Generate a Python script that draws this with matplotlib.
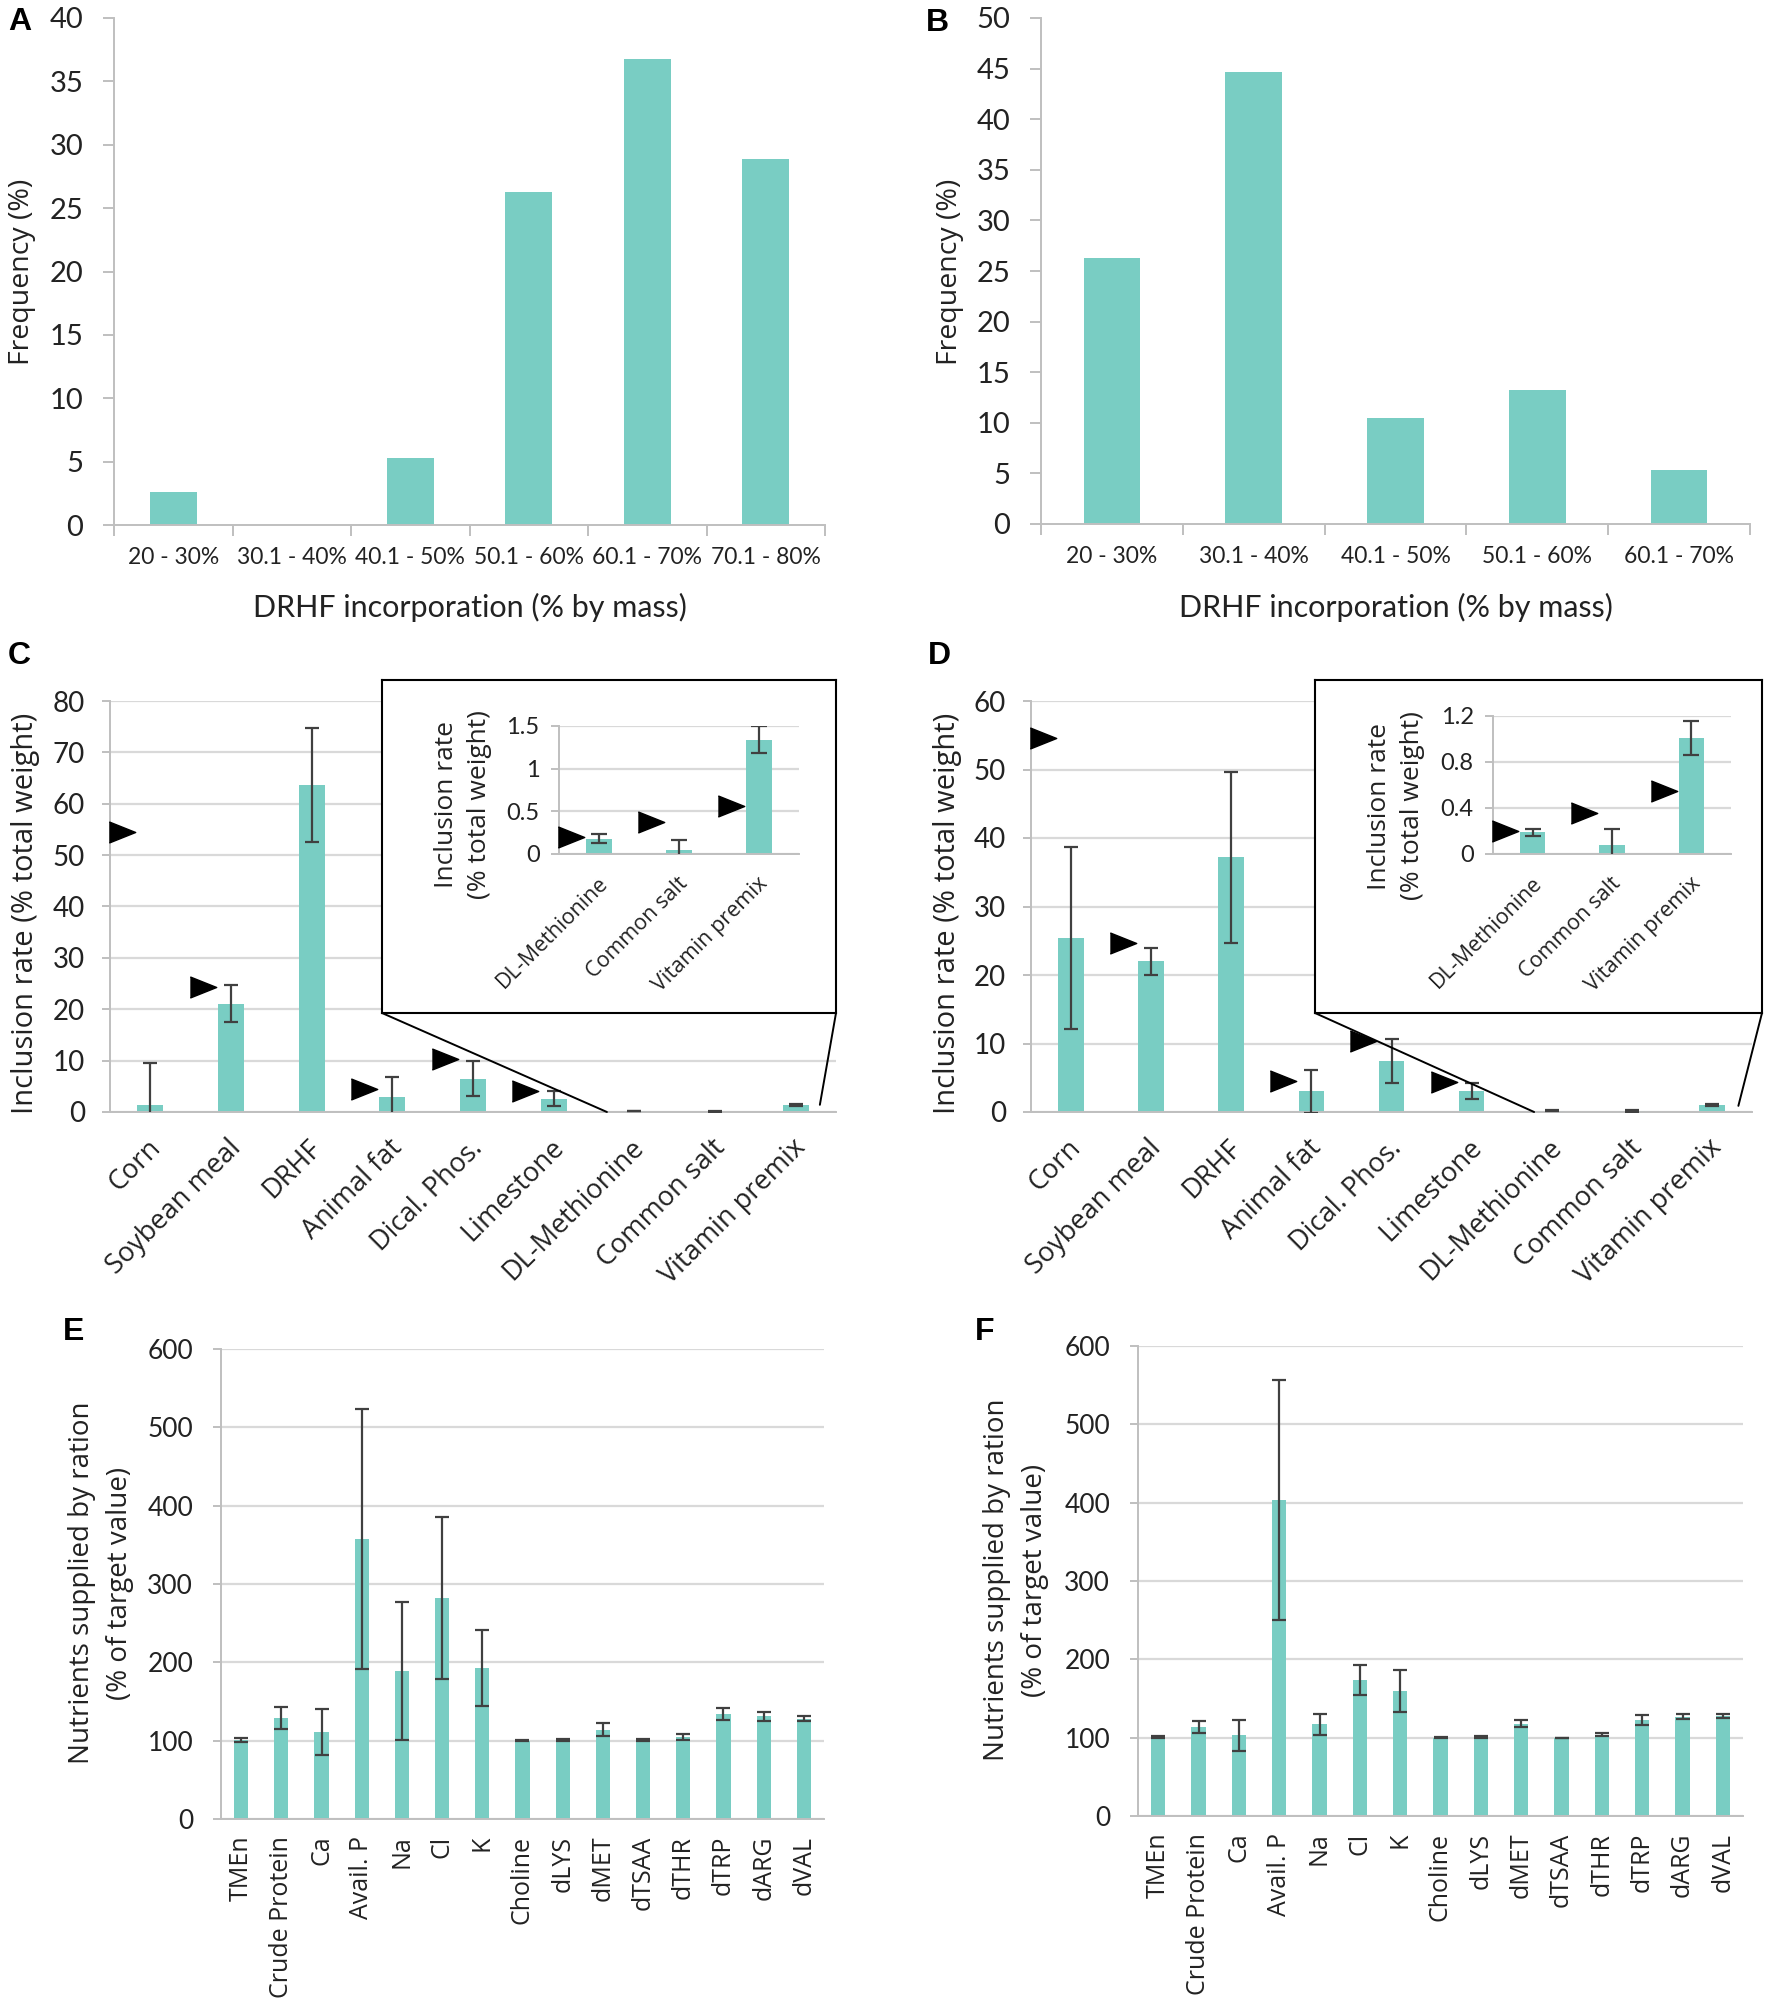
import matplotlib
matplotlib.use('Agg')
import matplotlib.pyplot as plt
import numpy as np
from matplotlib.patches import ConnectionPatch
from matplotlib.transforms import ScaledTranslation

# ---------------- data ----------------
bins_a = ['20 - 30%', '30.1 - 40%', '40.1 - 50%', '50.1 - 60%', '60.1 - 70%', '70.1 - 80%']
freq_a = [2.6, 0.0, 5.3, 26.3, 36.8, 28.9]
bins_b = ['20 - 30%', '30.1 - 40%', '40.1 - 50%', '50.1 - 60%', '60.1 - 70%']
freq_b = [26.3, 44.7, 10.5, 13.2, 5.3]

ingredients = ['Corn', 'Soybean meal', 'DRHF', 'Animal fat', 'Dical. Phos.',
               'Limestone', 'DL-Methionine', 'Common salt', 'Vitamin premix']
c_mean = [1.3, 21.1, 63.7, 2.9, 6.5, 2.6, 0.18, 0.05, 1.34]
c_sd = [8.3, 3.6, 11.1, 3.9, 3.4, 1.4, 0.05, 0.11, 0.16]
c_target = [54.5, 24.4, np.nan, 4.4, 10.3, 4.0, 0.20, 0.38, 0.56]
d_mean = [25.4, 22.0, 37.2, 3.0, 7.5, 3.1, 0.19, 0.08, 1.01]
d_sd = [13.3, 2.0, 12.5, 3.1, 3.2, 1.2, 0.03, 0.14, 0.145]
d_target = [54.6, 24.6, np.nan, 4.5, 10.3, 4.4, 0.20, 0.36, 0.55]

nutrients = ['TMEn', 'Crude Protein', 'Ca', 'Avail. P', 'Na', 'Cl', 'K', 'Choline',
             'dLYS', 'dMET', 'dTSAA', 'dTHR', 'dTRP', 'dARG', 'dVAL']
e_mean = [101, 129, 111, 357, 189, 282, 193, 100, 101, 114, 100.5, 105, 134, 131, 128]
e_sd = [3, 14, 29.5, 166, 88, 103, 48.5, 0.5, 1.5, 8, 1, 4, 8, 6, 3.5]
f_mean = [101, 114, 103, 403, 117, 174, 160, 100, 100.5, 118, 99.5, 104, 123, 127, 128]
f_sd = [1.5, 7.5, 19.5, 153, 13, 19, 27, 0.5, 1.5, 5, 0.5, 2.5, 6.5, 3.5, 2.5]

# ---------------- style ----------------
W, H = 1772, 2014
BAR = '#79CDC3'
GRID = '#D9D9D9'
SPINE = '#BFBFBF'
ERR = '#404040'
TXT = '#222222'
TICKF = ['Lato', 'DejaVu Sans']
LABF = ['Open Sans', 'DejaVu Sans']
plt.rcParams['font.family'] = TICKF
plt.rcParams['text.color'] = TXT
plt.rcParams['xtick.color'] = SPINE
plt.rcParams['ytick.color'] = SPINE
plt.rcParams['xtick.labelcolor'] = TXT
plt.rcParams['ytick.labelcolor'] = TXT

TRI = [(-1, -0.8), (1, 0), (-1, 0.8)]

fig = plt.figure(figsize=(W / 100, H / 100), dpi=100)


def rect(l, t, r, b):
    return [l / W, 1 - b / H, (r - l) / W, (b - t) / H]


def fpos(x, y):
    return x / W, 1 - y / H


def style_spines(ax):
    for s in ['top', 'right']:
        ax.spines[s].set_visible(False)
    for s in ['left', 'bottom']:
        ax.spines[s].set_color(SPINE)
        ax.spines[s].set_linewidth(1.4)


def shift_labels(ax, dx_px):
    off = ScaledTranslation(dx_px / 100, 0, fig.dpi_scale_trans)
    for lab in ax.get_xticklabels():
        lab.set_transform(lab.get_transform() + off)


def hist_panel(r, cats, vals, ymax, ystep):
    ax = fig.add_axes(rect(*r))
    x = np.arange(len(cats))
    ax.bar(x, vals, width=0.4, color=BAR, zorder=2)
    ax.set_xlim(-0.5, len(cats) - 0.5)
    ax.set_ylim(0, ymax)
    ax.set_yticks(np.arange(0, ymax + 1, ystep))
    ax.set_xticks(x)
    ax.set_xticklabels(cats, fontsize=16.5)
    ax.set_xticks(np.arange(-0.5, len(cats)), minor=True)
    ax.tick_params(axis='x', which='major', length=0, pad=16)
    ax.tick_params(axis='x', which='minor', length=8, width=1.4)
    ax.tick_params(axis='y', length=8, width=1.4, pad=14, labelsize=21)
    style_spines(ax)
    return ax


def bar_err(ax, means, sds, width, cap):
    x = np.arange(len(means))
    ax.bar(x, means, width=width, color=BAR, zorder=2)
    ax.errorbar(x, means, yerr=sds, fmt='none', ecolor=ERR, elinewidth=1.6,
                capsize=cap, capthick=1.6, zorder=3)
    return x


def grid_axes(ax, n, ymax, ystep, ylabsize, pad):
    ax.set_xlim(-0.5, n - 0.5)
    ax.set_ylim(0, ymax)
    ax.set_yticks(np.arange(0, ymax + ystep / 2, ystep))
    ax.yaxis.grid(True, color=GRID, linewidth=1.6, zorder=0)
    ax.set_axisbelow(True)
    ax.tick_params(axis='y', length=6, width=1.4, pad=pad, labelsize=ylabsize)
    style_spines(ax)


def ingredient_panel(main_r, box_r, ins_r, means, sds, targets, ymax, ystep,
                     ins_ymax, ins_ticks, ins_ticklabels, conn_l, conn_r):
    ax = fig.add_axes(rect(*main_r))
    x = bar_err(ax, means, sds, 0.32, 5)
    ax.plot(x[:6] - 0.35, targets[:6], ls='none', marker=TRI, ms=19, color='black',
            zorder=5, clip_on=False)
    grid_axes(ax, len(ingredients), ymax, ystep, 20, 12)
    ax.set_xticks(x)
    ax.set_xticklabels(ingredients, fontsize=19.5, family=LABF, rotation=45,
                       ha='right', va='center', rotation_mode='anchor')
    ax.tick_params(axis='x', length=0, pad=23)
    shift_labels(ax, 6)

    box = fig.add_axes(rect(*box_r), zorder=3)
    box.set_xticks([])
    box.set_yticks([])
    for s in box.spines.values():
        s.set_color('black')
        s.set_linewidth(1.5)

    ins = fig.add_axes(rect(*ins_r), zorder=4)
    ins.patch.set_alpha(0)
    xi = bar_err(ins, means[6:], sds[6:], 0.32, 5.5)
    ins.plot(xi - 0.35, targets[6:], ls='none', marker=TRI, ms=19, color='black',
             zorder=5, clip_on=False)
    grid_axes(ins, 3, ins_ymax, ins_ticks[1], 17, 8)
    ins.set_yticks(ins_ticks)
    ins.set_yticklabels(ins_ticklabels)
    ins.set_xticks(xi)
    ins.set_xticklabels(ingredients[6:], fontsize=15.5, family=LABF, rotation=45,
                        ha='right', va='center', rotation_mode='anchor')
    ins.tick_params(axis='x', length=0, pad=19)
    shift_labels(ins, 6)

    for bxy, dxy in [((0, 0), conn_l), ((1, 0), conn_r)]:
        cp = ConnectionPatch(xyA=bxy, coordsA=box.transAxes, xyB=dxy,
                             coordsB=ax.transData, color='black', lw=1.4, zorder=2.5)
        fig.add_artist(cp)
    return ax, box, ins


def nutrient_panel(r, means, sds):
    ax = fig.add_axes(rect(*r))
    x = bar_err(ax, means, sds, 0.35, 5)
    grid_axes(ax, len(nutrients), 600, 100, 19, 14)
    ax.set_xticks(x)
    ax.set_xticklabels(nutrients, fontsize=18, rotation=90, family=LABF)
    ax.tick_params(axis='x', length=0, pad=12)
    return ax


# ---------------- panels ----------------
hist_panel((114, 18, 825, 525), bins_a, freq_a, 40, 5)
hist_panel((1041, 18, 1750, 524), bins_b, freq_b, 50, 5)

ingredient_panel((110, 701, 836, 1112), (382, 680, 836, 1013), (559, 726, 799, 854),
                 c_mean, c_sd, c_target, 80, 10, 1.5, [0, 0.5, 1, 1.5],
                 ['0', '0.5', '1', '1.5'], (5.66, 0), (8.30, 1.4))
ingredient_panel((1031, 701, 1752, 1112), (1315, 680, 1762, 1013), (1493, 716, 1731, 854),
                 d_mean, d_sd, d_target, 60, 10, 1.2, [0, 0.4, 0.8, 1.2],
                 ['0', '0.4', '0.8', '1.2'], (5.78, 0), (8.33, 0.9))

nutrient_panel((221, 1349, 824, 1819), e_mean, e_sd)
nutrient_panel((1138, 1346, 1743, 1816), f_mean, f_sd)

# ---------------- labels ----------------
for x, y in [(22, 272), (950, 272)]:
    fig.text(*fpos(x, y), 'Frequency (%)', rotation=90, ha='center', va='center',
             fontsize=20.5, family=LABF)
for x, y in [(470, 607), (1396, 607)]:
    fig.text(*fpos(x, y), 'DRHF incorporation (% by mass)', ha='center', va='center',
             fontsize=22, family=TICKF)
for x, y in [(26, 913), (947, 913)]:
    fig.text(*fpos(x, y), 'Inclusion rate (% total weight)', rotation=90, ha='center',
             va='center', fontsize=21, family=LABF)
for x, y in [(463, 805), (1396, 806)]:
    fig.text(*fpos(x, y), 'Inclusion rate\n(% total weight)', rotation=90, ha='center',
             va='center', fontsize=19, family=LABF, linespacing=1.4, zorder=10)
for x, y in [(101, 1583), (1016, 1580)]:
    fig.text(*fpos(x, y), 'Nutrients supplied by ration\n(% of target value)', rotation=90,
             ha='center', va='center', fontsize=20, family=LABF, linespacing=1.45)

for lab, x, y in [('A', 20, 22), ('B', 937, 23), ('C', 19, 656), ('D', 939, 656),
                  ('E', 74, 1332), ('F', 985, 1332)]:
    fig.text(*fpos(x, y), lab, ha='center', va='center', fontsize=23, fontweight='bold',
             family=['Liberation Sans', 'DejaVu Sans'], color='black')

fig.savefig('out.png', dpi=100, facecolor='white')
